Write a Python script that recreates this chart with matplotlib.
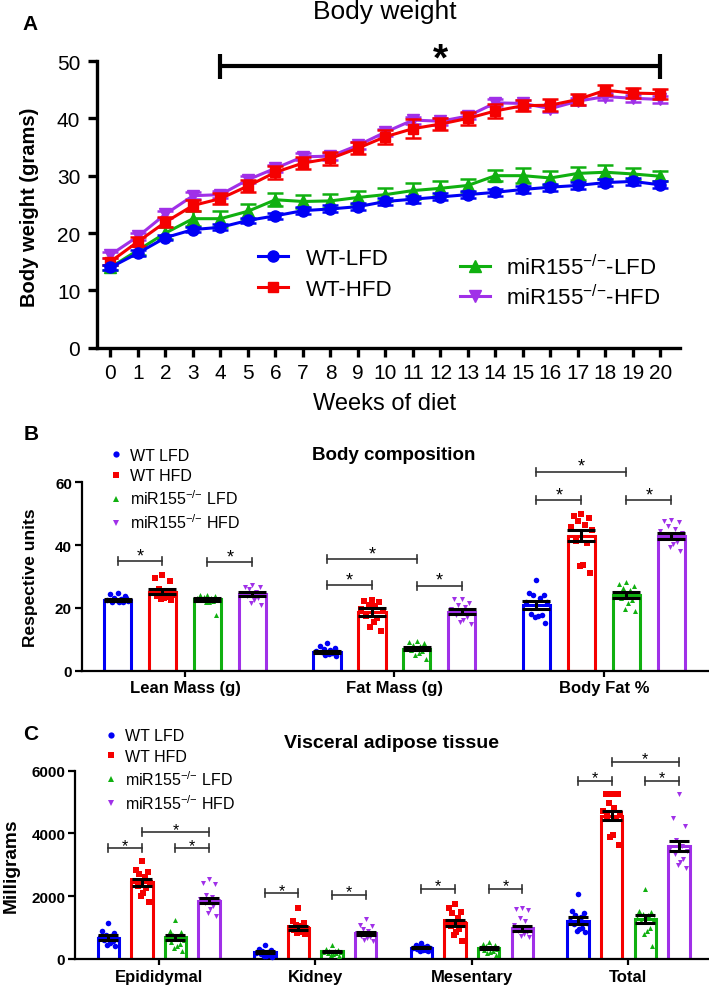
import numpy as np
import matplotlib
matplotlib.use('Agg')
import matplotlib.pyplot as plt
from matplotlib.lines import Line2D

plt.rcParams['font.family'] = ['Liberation Sans', 'DejaVu Sans']
plt.rcParams['mathtext.fontset'] = 'custom'
plt.rcParams['mathtext.rm'] = 'Liberation Sans'
plt.rcParams['mathtext.it'] = 'Liberation Sans:italic'
plt.rcParams['mathtext.bf'] = 'Liberation Sans:bold'

W, H = 709, 987

# ---------------- DATA ----------------
colors = ['#0000F5', '#F50000', '#10B010', '#A030E8']
markers_A = ['o', 's', '^', 'v']

# Panel A: body weight (grams) by week
weeks = list(range(21))
a_labels = ['WT-LFD', 'WT-HFD', 'miR155$^{{-}/{-}}$-LFD', 'miR155$^{{-}/{-}}$-HFD']
wt_lfd = [14.0, 16.5, 19.2, 20.6, 21.0, 22.2, 23.0, 23.9, 24.2, 24.6, 25.5,
          25.9, 26.3, 26.7, 27.1, 27.6, 28.0, 28.3, 28.8, 29.0, 28.4]
wt_hfd = [15.0, 18.5, 21.9, 24.8, 26.0, 28.2, 30.6, 32.2, 33.0, 34.8, 36.8,
          38.2, 39.0, 40.0, 41.3, 42.2, 42.3, 43.3, 44.9, 44.4, 44.3]
ko_lfd = [14.0, 17.0, 20.0, 22.5, 22.5, 23.8, 25.8, 25.5, 25.6, 26.2, 26.7,
          27.4, 27.8, 28.3, 30.0, 30.0, 29.6, 30.4, 30.6, 30.3, 29.9]
ko_hfd = [16.2, 19.4, 23.3, 26.5, 26.7, 29.3, 31.3, 33.3, 33.4, 35.3, 37.6,
          39.7, 39.5, 40.4, 42.7, 42.6, 41.7, 43.0, 43.8, 43.5, 43.3]
wt_lfd_sem = [0.5, 0.5, 0.5, 0.5, 0.5, 0.5, 0.5, 0.6, 0.6, 0.6, 0.6,
              0.6, 0.6, 0.6, 0.6, 0.6, 0.6, 0.6, 0.6, 0.6, 0.6]
wt_hfd_sem = [0.6, 0.8, 0.9, 1.0, 1.0, 1.0, 1.1, 1.1, 1.1, 1.1, 1.2,
              1.6, 1.1, 1.1, 1.2, 1.0, 1.0, 0.9, 0.9, 0.9, 0.9]
ko_lfd_sem = [0.5, 0.8, 1.0, 1.3, 1.4, 1.3, 1.1, 1.2, 1.2, 1.1, 1.2,
              1.4, 1.3, 1.2, 1.0, 1.3, 1.3, 1.2, 1.2, 1.1, 0.9]
ko_hfd_sem = [0.5, 0.6, 0.6, 0.6, 0.6, 0.6, 0.6, 0.6, 0.6, 0.6, 0.6,
              0.6, 0.6, 0.6, 0.6, 0.6, 0.6, 0.6, 0.6, 0.6, 0.6]

# Panel B: body composition
b_categories = ['Lean Mass (g)', 'Fat Mass (g)', 'Body Fat %']
bc_labels = ['WT LFD', 'WT HFD', 'miR155$^{{-}/{-}}$ LFD', 'miR155$^{{-}/{-}}$ HFD']
b_means = {
    'WT LFD': [22.5, 6.0, 21.0],
    'WT HFD': [25.2, 18.7, 43.0],
    'KO LFD': [22.7, 7.0, 24.0],
    'KO HFD': [24.5, 18.7, 43.0],
}
b_sem = {
    'WT LFD': [0.4, 0.4, 1.3],
    'WT HFD': [0.9, 1.2, 1.8],
    'KO LFD': [0.5, 0.5, 1.0],
    'KO HFD': [0.7, 0.8, 0.9],
}
b_points_wt_lfd = [[24.6, 24.4, 23.7, 23.0, 22.8, 22.5, 22.3, 22.0, 21.8, 21.9, 22.6, 23.2],
                   [8.7, 7.8, 7.2, 6.9, 6.5, 6.2, 6.0, 5.8, 5.5, 5.3, 5.0, 4.8],
                   [28.9, 24.6, 24.2, 24.0, 23.2, 22.0, 21.8, 18.2, 17.8, 17.5, 17.0, 15.3]]
b_points_wt_hfd = [[30.4, 29.6, 28.7, 25.9, 25.3, 24.8, 24.2, 23.8, 23.5, 23.2, 22.9, 22.6],
                   [22.5, 22.3, 21.8, 21.0, 20.5, 19.8, 19.0, 17.5, 16.8, 15.5, 13.8, 12.8],
                   [49.8, 49.2, 48.7, 47.8, 46.3, 45.9, 44.8, 41.2, 40.8, 33.8, 33.4, 31.2]]
b_points_ko_lfd = [[24.2, 24.0, 23.8, 23.5, 23.3, 23.0, 22.8, 22.5, 22.2, 22.0, 21.8, 17.6],
                   [9.5, 9.2, 8.8, 8.3, 7.8, 7.3, 7.0, 6.6, 6.2, 5.7, 5.0, 3.8],
                   [28.3, 27.6, 27.0, 26.2, 25.8, 24.6, 23.8, 23.2, 22.4, 21.5, 19.8, 18.9]]
b_points_ko_hfd = [[27.3, 26.8, 26.5, 26.0, 25.2, 24.8, 24.3, 23.8, 23.0, 22.5, 21.5, 20.8],
                   [22.9, 22.7, 21.5, 20.8, 20.2, 19.5, 18.5, 17.6, 17.0, 16.2, 15.6, 15.0],
                   [48.1, 47.8, 47.5, 46.2, 45.0, 44.6, 43.8, 42.9, 41.0, 40.2, 39.3, 38.2]]
# significance brackets: (category, group_a, group_b, height)
b_sig = [(0, 0, 1, 35.0), (0, 2, 3, 34.5),
         (1, 0, 2, 35.6), (1, 0, 1, 27.3), (1, 2, 3, 27.1),
         (2, 0, 2, 63.4), (2, 0, 1, 54.4), (2, 2, 3, 54.4)]

# Panel C: visceral adipose tissue (mg)
c_categories = ['Epididymal', 'Kidney', 'Mesentary', 'Total']
c_means = {
    'WT LFD': [680, 220, 360, 1220],
    'WT HFD': [2440, 990, 1150, 4570],
    'KO LFD': [690, 240, 340, 1265],
    'KO HFD': [1855, 815, 975, 3615],
}
c_sem = {
    'WT LFD': [70, 40, 25, 110],
    'WT HFD': [110, 60, 100, 150],
    'KO LFD': [70, 30, 30, 130],
    'KO HFD': [80, 60, 90, 160],
}
c_points_wt_lfd = [[1150, 880, 820, 780, 720, 690, 650, 600, 560, 500, 450, 400],
                   [440, 330, 280, 240, 220, 200, 180, 150, 120, 100, 80, 60],
                   [520, 450, 420, 390, 370, 360, 340, 320, 300, 280, 260, 250],
                   [2060, 1520, 1480, 1400, 1350, 1200, 1150, 1100, 1000, 950, 880, 850]]
c_points_wt_hfd = [[3130, 2850, 2780, 2720, 2600, 2500, 2420, 2330, 2250, 2100, 2000, 1830],
                   [1620, 1200, 1150, 1080, 1040, 990, 960, 920, 880, 860, 830, 800],
                   [1740, 1640, 1500, 1460, 1300, 1180, 1100, 1050, 960, 850, 780, 580],
                   [5270, 5260, 5250, 4960, 4800, 4720, 4620, 4550, 4450, 3950, 3900, 3640]]
c_points_ko_lfd = [[1240, 900, 850, 780, 720, 660, 600, 540, 480, 420, 350, 270],
                   [440, 330, 300, 270, 250, 230, 210, 200, 180, 160, 130, 80],
                   [540, 480, 450, 400, 370, 340, 320, 300, 270, 230, 180, 120],
                   [2230, 1540, 1500, 1440, 1400, 1300, 1260, 1200, 1000, 900, 800, 430]]
c_points_ko_hfd = [[2560, 2420, 2380, 2050, 1960, 1900, 1850, 1800, 1700, 1600, 1480, 1360],
                   [1290, 1090, 1060, 950, 880, 830, 790, 740, 700, 660, 620, 580],
                   [1620, 1600, 1560, 1300, 1200, 1080, 960, 900, 850, 800, 740, 700],
                   [5250, 4500, 4250, 3800, 3600, 3550, 3450, 3350, 3200, 3100, 3000, 2900]]
c_sig = [(0, 0, 1, 3525), (0, 1, 3, 4035), (0, 2, 3, 3525),
         (1, 0, 1, 2092), (1, 2, 3, 2048),
         (2, 0, 1, 2229), (2, 2, 3, 2229),
         (3, 0, 1, 5669), (3, 1, 3, 6284), (3, 2, 3, 5669)]

# ---------------- FIGURE ----------------
fig = plt.figure(figsize=(W / 100, H / 100), dpi=100)


def rect(l, t, r, b):
    return [l / W, 1 - b / H, (r - l) / W, (b - t) / H]


# ===== Panel A =====
axA = fig.add_axes(rect(97, 62, 680, 348.7))
seriesA = [wt_lfd, wt_hfd, ko_lfd, ko_hfd]
semA = [wt_lfd_sem, wt_hfd_sem, ko_lfd_sem, ko_hfd_sem]
zA = [5, 4, 3, 2]
msA = [8, 7.3, 8, 8]
for i in range(4):
    axA.errorbar(weeks, seriesA[i], yerr=semA[i], color=colors[i], marker=markers_A[i],
                 ms=msA[i], mec=colors[i], lw=2.2, elinewidth=1.8, capsize=6, capthick=1.8,
                 zorder=zA[i], clip_on=False)
axA.set_xlim(-0.49, 20.71)
axA.set_ylim(0, 50)
axA.set_xticks(weeks)
axA.set_yticks([0, 10, 20, 30, 40, 50])
for s in ['top', 'right']:
    axA.spines[s].set_visible(False)
for s in ['left', 'bottom']:
    axA.spines[s].set_linewidth(2.4)
axA.tick_params(axis='both', labelsize=15, width=2.4, length=6.5)
axA.tick_params(axis='y', pad=5.5)
axA.tick_params(axis='x', pad=4.5)
# significance bracket weeks 4-20
axA.plot([4, 20], [49.1, 49.1], color='k', lw=3, clip_on=False, solid_capstyle='butt')
for wx in (4, 20):
    axA.plot([wx, wx], [46.8, 51.3], color='k', lw=3, clip_on=False, solid_capstyle='butt')
axA.text(12, 48.6, '*', fontsize=28, fontweight='bold', ha='center', va='baseline')

hA = [Line2D([], [], color=colors[i], marker=markers_A[i], ms=msA[i], lw=2.2) for i in range(4)]
leg1 = axA.legend(hA[:2], a_labels[:2], loc='upper left', bbox_to_anchor=(258 / W, 1 - 249 / H),
                  bbox_transform=fig.transFigure, frameon=False, fontsize=16, handlelength=1.35,
                  handletextpad=0.8, labelspacing=0.45, borderpad=0, borderaxespad=0)
axA.add_artist(leg1)
axA.legend(hA[2:], a_labels[2:], loc='upper left', bbox_to_anchor=(460 / W, 1 - 255 / H),
           bbox_transform=fig.transFigure, frameon=False, fontsize=16, handlelength=1.35,
           handletextpad=0.7, labelspacing=0.2, borderpad=0, borderaxespad=0)

fig.text(385 / W, 1 - 12 / H, 'Body weight', fontsize=19, ha='center', va='center')
fig.text(385 / W, 1 - 404 / H, 'Weeks of diet', fontsize=17, ha='center', va='center')
fig.text(30 / W, 1 - 207 / H, 'Body weight (grams)', fontsize=14.5, fontweight='bold',
         rotation=90, ha='center', va='center')

# ===== bar panels =====
STEP = 0.2145
jit = [0.0, -0.55, 0.55, -0.25, 0.25, -0.8, 0.8, -0.4, 0.4, 0.12, -0.12, 0.65]
mk_bar = ['o', 's', '^', 'v']
keys = ['WT LFD', 'WT HFD', 'KO LFD', 'KO HFD']


def bar_panel(ax, cats, means, sems, pts, sig, width, capsize, ylim, yticks, cap_half,
              star_size, star_off):
    ncat = len(cats)
    for k in range(4):
        xs = np.arange(ncat) + (k - 1.5) * STEP
        ax.bar(xs, means[keys[k]], width=width, facecolor='white', edgecolor=colors[k],
               lw=2.2, zorder=2)
        for ci in range(ncat):
            p = pts[k][ci]
            xj = xs[ci] + np.array(jit[:len(p)]) * width * 0.5
            ax.scatter(xj, p, marker=mk_bar[k], s=16 if k == 0 else 13, color=colors[k],
                       linewidths=0, zorder=3, clip_on=False)
        ax.errorbar(xs, means[keys[k]], yerr=sems[keys[k]], fmt='none', ecolor='black',
                    elinewidth=2.2, capsize=capsize, capthick=2.2, zorder=4)
    for (ci, a, b, y) in sig:
        x1 = ci + (a - 1.5) * STEP
        x2 = ci + (b - 1.5) * STEP
        ax.plot([x1, x2], [y, y], color='#333333', lw=1.2, clip_on=False, zorder=5)
        for xx in (x1, x2):
            ax.plot([xx, xx], [y - cap_half, y + cap_half], color='#333333', lw=1.2,
                    clip_on=False, zorder=5)
        ax.annotate('*', xy=((x1 + x2) / 2, y), xytext=(0, star_off), textcoords='offset points',
                    ha='center', va='baseline', fontsize=star_size, zorder=6,
                    annotation_clip=False)
    ax.set_ylim(*ylim)
    ax.set_yticks(yticks)
    ax.set_xticks(range(ncat))
    ax.set_xticklabels(cats, fontsize=12, fontweight='bold')
    for s in ['top', 'right']:
        ax.spines[s].set_visible(False)
    for s in ['left', 'bottom']:
        ax.spines[s].set_linewidth(1.6)
    ax.tick_params(axis='y', labelsize=11, width=1.6, length=5, pad=2)
    ax.tick_params(axis='x', width=1.6, length=4, pad=3)
    for t in ax.get_yticklabels():
        t.set_fontweight('bold')


hB = [Line2D([], [], ls='none', marker=mk_bar[k], color=colors[k], ms=4.5, mew=0) for k in range(4)]

# ===== Panel B =====
axB = fig.add_axes(rect(81.7, 483.3, 709, 671.7))
axB.set_xlim(-0.493, 2.502)
bar_panel(axB, b_categories, b_means, b_sem,
          [b_points_wt_lfd, b_points_wt_hfd, b_points_ko_lfd, b_points_ko_hfd],
          b_sig, 0.13, 10, (0, 60), [0, 20, 40, 60], 1.25, 13, 0.5)
axB.legend(hB, bc_labels, loc='upper left', bbox_to_anchor=(111.5 / W, 1 - 449 / H),
           bbox_transform=fig.transFigure, frameon=False, fontsize=11.5, handlelength=0.6,
           handletextpad=0.55, labelspacing=0.33, borderpad=0, borderaxespad=0)
fig.text(394 / W, 1 - 455.7 / H, 'Body composition', fontsize=13.5, fontweight='bold',
         ha='center', va='center')
fig.text(30.5 / W, 1 - 578 / H, 'Respective units', fontsize=12.5, fontweight='bold',
         rotation=90, ha='center', va='center')

# ===== Panel C =====
axC = fig.add_axes(rect(75, 771.7, 709, 960))
axC.set_xlim(-0.534, 3.514)
bar_panel(axC, c_categories, c_means, c_sem,
          [c_points_wt_lfd, c_points_wt_hfd, c_points_ko_lfd, c_points_ko_hfd],
          c_sig, 0.137, 7, (0, 6000), [0, 2000, 4000, 6000], 127, 11.5, -1)
axC.legend(hB, bc_labels, loc='upper left', bbox_to_anchor=(106.5 / W, 1 - 729.5 / H),
           bbox_transform=fig.transFigure, frameon=False, fontsize=11.5, handlelength=0.6,
           handletextpad=0.55, labelspacing=0.33, borderpad=0, borderaxespad=0)
fig.text(391 / W, 1 - 743 / H, 'Visceral adipose tissue', fontsize=14, fontweight='bold',
         ha='center', va='center')
fig.text(11 / W, 1 - 866 / H, 'Milligrams', fontsize=13.8, fontweight='bold',
         rotation=90, ha='center', va='center')

# panel letters
for (lx, ly, L) in [(30, 25, 'A'), (31, 435, 'B'), (31, 735, 'C')]:
    fig.text(lx / W, 1 - ly / H, L, fontsize=15, fontweight='bold', ha='center', va='center')

fig.savefig('out.png', dpi=100)
